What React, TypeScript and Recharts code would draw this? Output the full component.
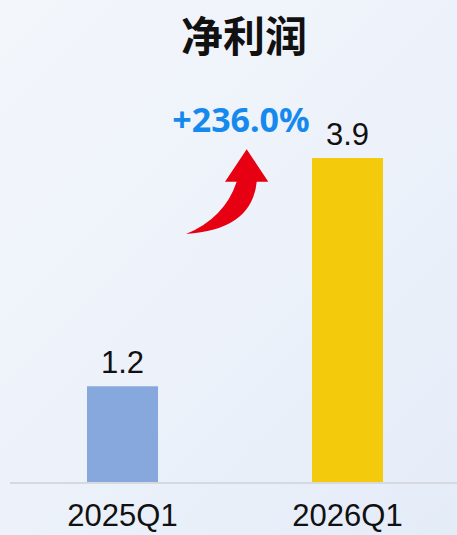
import React from 'react';
import { BarChart, Bar, XAxis, YAxis, LabelList, Cell } from 'recharts';

const categories = ['2025Q1', '2026Q1'];
const netProfit = [1.16, 3.9];
const barColors = ['#86a8dc', '#f3cb0c'];
const title = '净利润';
const growthLabel = '+236.0%';

const data = categories.map((c, i) => ({ name: c, value: netProfit[i] }));

export default function App() {
  return (
    <div
      style={{
        position: 'absolute',
        left: 0,
        top: 0,
        width: 457,
        height: 535,
        overflow: 'hidden',
        background: 'linear-gradient(135deg, #f3f6fb 0%, #edf2fa 50%, #e4ecf8 100%)',
        fontFamily: 'Arial, "Liberation Sans", sans-serif',
      }}
    >
      <BarChart
        width={470}
        height={535}
        data={data}
        margin={{ top: 108, right: 10, bottom: 0, left: 10 }}
        barCategoryGap={0}
      >
        <XAxis
          dataKey="name"
          height={52}
          axisLine={{ stroke: '#d6dae0', strokeWidth: 2 }}
          tickLine={false}
          tick={{ fill: '#111111', fontSize: 31, fontFamily: 'Arial, "Liberation Sans", sans-serif' }}
          tickMargin={15}
          interval={0}
        />
        <YAxis hide domain={[0, 4.5]} />
        <Bar dataKey="value" barSize={71} isAnimationActive={false}>
          {data.map((d, i) => (
            <Cell key={d.name} fill={barColors[i]} />
          ))}
          <LabelList
            dataKey="value"
            position="top"
            offset={13}
            formatter={(v: number) => Number(v).toFixed(1)}
            style={{ fill: '#111111', fontSize: 31, fontFamily: 'Arial, "Liberation Sans", sans-serif' }}
          />
        </Bar>
      </BarChart>
      <svg
        width={457}
        height={535}
        style={{ position: 'absolute', left: 0, top: 0, pointerEvents: 'none' }}
      >
        <text
          x={244}
          y={52}
          textAnchor="middle"
          fontSize={42}
          fontWeight="bold"
          fill="#111111"
          fontFamily='"Noto Sans CJK SC", sans-serif'
        >
          {title}
        </text>
        <text
          x={241}
          y={132}
          textAnchor="middle"
          fontSize={34}
          fontWeight="bold"
          fill="#1589ee"
          fontFamily='"Noto Sans", sans-serif'
        >
          {growthLabel}
        </text>
        <path
          d="M 246.7 149.3 L 268.3 181.7 L 256.7 181.7 Q 252 230 186 234 Q 224.6 218 236.7 181.7 L 225 181.7 Z"
          fill="#e60012"
        />
      </svg>
    </div>
  );
}
